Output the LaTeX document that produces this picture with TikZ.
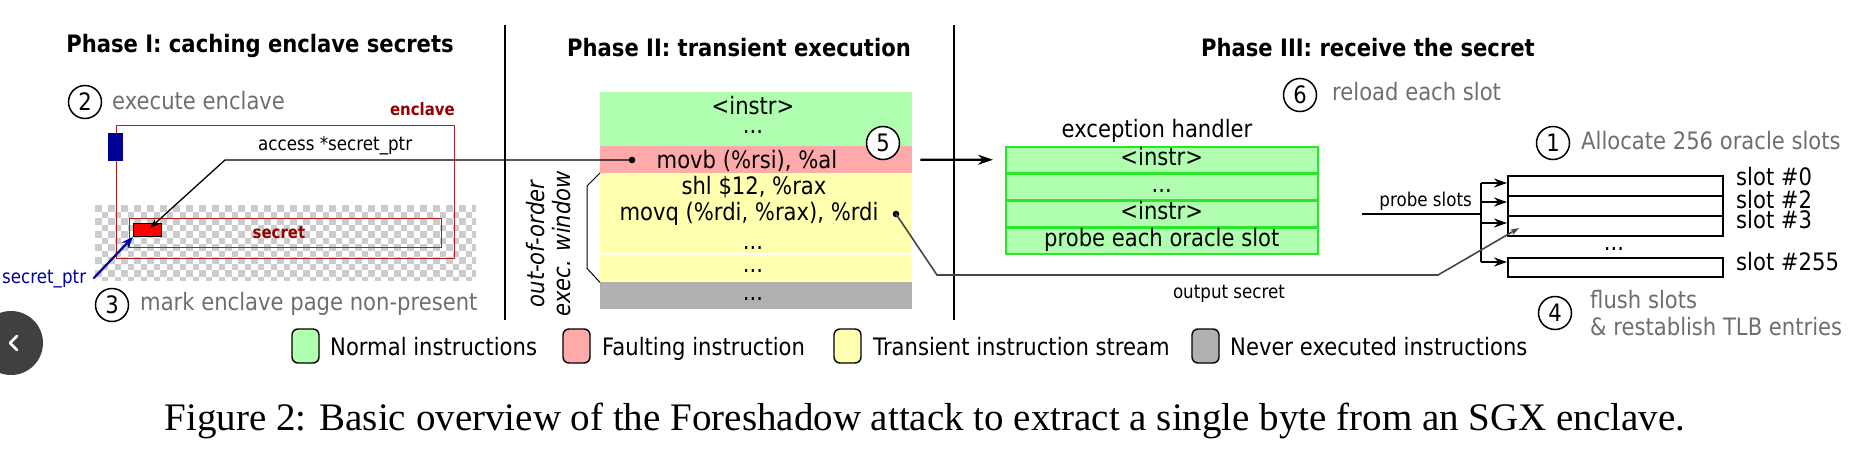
\documentclass[tikz,border=0pt]{standalone}
\usepackage{fontspec}
\setmainfont{DejaVu Sans}[FakeStretch=0.88]
\newfontfamily\capfont{Liberation Serif}
\usetikzlibrary{arrows.meta}
\definecolor{chk}{RGB}{204,204,204}
\definecolor{encl}{RGB}{175,30,30}
\definecolor{encltx}{RGB}{150,0,0}
\definecolor{encblue}{RGB}{0,0,150}
\definecolor{ptrblue}{RGB}{0,0,160}
\definecolor{grn}{RGB}{176,255,176}
\definecolor{ehgreen}{RGB}{40,230,40}
\definecolor{pnk}{RGB}{255,170,170}
\definecolor{ylw}{RGB}{255,255,176}
\definecolor{gry}{RGB}{176,176,176}
\definecolor{labgray}{RGB}{110,110,110}
\definecolor{outline}{RGB}{70,70,70}
\definecolor{uibtn}{RGB}{64,64,64}
\begin{document}
\begin{tikzpicture}[x=1pt,y=-1pt,
  title/.style={inner sep=0, font=\bfseries\fontsize{24}{28}\selectfont},
  txt/.style={inner sep=0, font=\fontsize{24}{28}\selectfont},
  lbl/.style={inner sep=0, text=labgray, font=\fontsize{24}{28}\selectfont},
  num/.style={circle, draw, line width=1.5, minimum size=33, inner sep=0, font=\fontsize{24}{28}\selectfont},
  encltext/.style={inner sep=0, text=encltx, font=\bfseries\fontsize{17}{20}\selectfont},
  band/.style={anchor=north west, minimum width=312, inner sep=0, draw=none},
  ehbox/.style={anchor=north west, draw=ehgreen, fill=grn, line width=1.5, minimum width=312, minimum height=26, inner sep=0, text height=17, text depth=5, font=\fontsize{24}{28}\selectfont},
  slotbox/.style={anchor=north west, draw, line width=1.5, minimum width=215, minimum height=20, inner sep=0},
  slotlbl/.style={inner sep=0, anchor=base west, font=\fontsize{24}{28}\selectfont},
  legbox/.style={draw, line width=1.4, rounded corners=6, minimum width=27, minimum height=34, inner sep=0},
  legtxt/.style={inner sep=0, anchor=base west, font=\fontsize{24}{28}\selectfont},
  probearr/.style={line width=2.2, -{Stealth[length=13,width=9]}},
]
\useasboundingbox (0,0) rectangle (1850,458);

% titles
\node[title, anchor=base] (t1) at (260,52) {Phase I: caching enclave secrets};
\node[title, anchor=base] (t2) at (739,56) {Phase II: transient execution};
\node[title, anchor=base] (t3) at (1368,56) {Phase III: receive the secret};

% dividers
\coordinate (d1t) at (505,25); \coordinate (d1b) at (505,320);
\coordinate (d2t) at (954,25); \coordinate (d2b) at (954,320);
\draw[line width=2.7] (d1t) -- (d1b);
\draw[line width=2.7] (d2t) -- (d2b);

% ---------- Phase I ----------
\begin{scope}
\clip (95,205) rectangle (476,280);
\foreach \i in {0,...,58}{\foreach \j in {0,...,11}{%
  \pgfmathtruncatemacro\k{mod(\i+\j,2)}%
  \ifnum\k=0 \fill[chk] (95+\i*6.5,205+\j*6.5) rectangle ++(6.5,6.5);\fi}}
\end{scope}

\node[draw=encl, line width=1.3, minimum width=338, minimum height=133, anchor=north west, inner sep=0] (enclave) at (116,125) {};
\node[draw=encl, line width=1.3, minimum width=312, minimum height=29, anchor=north west, inner sep=0] (secretbar) at (129,218) {};
\node[encltext, anchor=base] (secrettxt) at (279,238) {secret};
\node[fill=red, draw=black, line width=0.9, minimum width=28, minimum height=13, anchor=north west, inner sep=0] (cell) at (133,223) {};
\node[fill=encblue, minimum width=15, minimum height=28, anchor=north west, inner sep=0] (bluebar) at (108,133) {};
\node[encltext, anchor=base east] (enctxt) at (455,115) {enclave};
\node[inner sep=0, anchor=base west, font=\fontsize{19}{22}\selectfont] (access) at (258,150) {access *secret\_ptr};

\node[num] (n2) at (85,102) {2};
\node[lbl, anchor=base west] (l2) at (112,109) {execute enclave};
\node[num] (n3) at (112,305) {3};
\node[lbl, anchor=base west] (l3) at (140,310) {mark enclave page non-present};

\node[inner sep=0, anchor=base west, text=ptrblue, font=\fontsize{19}{22}\selectfont] (ptr) at (2,283) {secret\_ptr};
\draw[ptrblue, line width=2.2, -{Stealth[length=12,width=9]}] ([xshift=7]ptr.east) -- (cell.south west);

% ---------- Phase II ----------
\node[band, fill=grn, minimum height=54] (sgreen) at (600,92) {};
\node[band, fill=pnk, minimum height=27] (spink) at (600,146) {};
\node[band, fill=ylw, minimum height=109] (syellow) at (600,173) {};
\node[band, fill=gry, minimum height=27] (sgray) at (600,282) {};
\coordinate (sepL) at (600,254); \coordinate (sepR) at (912,254);
\draw[white, line width=1.2] (sepL) -- (sepR);

\node[txt, anchor=base] (i1) at (753,114) {<instr>};
\node[txt, anchor=base] (i2) at (753,133) {...};
\node[txt, anchor=base] (i3) at (747,168) {movb (\%rsi), \%al};
\node[txt, anchor=base] (i4) at (754,194) {shl \$12, \%rax};
\node[txt, anchor=base] (i5) at (749,220) {movq (\%rdi, \%rax), \%rdi};
\node[txt, anchor=base] (i6) at (753,249) {...};
\node[txt, anchor=base] (i7) at (753,272) {...};
\node[txt, anchor=base] (i8) at (753,300) {...};

\draw[line width=1] (syellow.north west) -- ([shift={(-13,13)}]syellow.north west)
  -- ([shift={(-13,-14)}]syellow.south west) -- (syellow.south west);
\node[rotate=90, align=center, inner sep=0, font=\itshape\fontsize{24}{26}\selectfont] (ooo) at (549,244) {out-of-order\\exec. window};

\node[num, fill=white] (n5) at (883,143) {5};

% access connector
\coordinate (dotA) at (632,160);
\coordinate (bendA) at (225,160);
\fill (dotA) circle (3.3);
\draw[line width=1.3, -{Stealth[length=10,width=7]}] (dotA) -- (bendA) -- ([shift={(17,5)}]cell.north west);

% ---------- Phase III ----------
\node[txt, anchor=base] (ehtitle) at (1157,137) {exception handler};
\node[ehbox] (eh1) at (1005,146) {<instr>};
\node[ehbox] (eh2) at (1005,173) {...};
\node[ehbox] (eh3) at (1005,200) {<instr>};
\node[ehbox] (eh4) at (1005,227) {probe each oracle slot};

\draw[line width=2.2, -{Stealth[length=15,width=10]}] ([xshift=8]spink.east) -- ([xshift=-12]eh1.west);

\node[num] (n6) at (1300,95) {6};
\node[lbl, anchor=base west] (l6) at (1332,100) {reload each slot};
\node[num] (n1) at (1553,143) {1};
\node[lbl, anchor=base west] (l1) at (1581,149) {Allocate 256 oracle slots};

\node[slotbox] (s0) at (1507,175) {};
\node[slotbox] (s2) at (1507,195) {};
\node[slotbox] (s3) at (1507,215) {};
\node[slotbox, minimum height=19] (s255) at (1507,257) {};
\node[slotlbl] (ls0) at (1736,185) {slot \#0};
\node[slotlbl] (ls2) at (1736,208) {slot \#2};
\node[slotlbl] (ls3) at (1736,228) {slot \#3};
\node[slotlbl] (ls255) at (1736,270) {slot \#255};
\node[inner sep=0, anchor=base, font=\fontsize{24}{28}\selectfont] (sdots) at (1614,250) {...};

% probe slots
\coordinate (pstart) at (1362,214);
\coordinate (bus) at (1481,214);
\coordinate (btop) at (1481,183);
\coordinate (b2) at (1481,202);
\coordinate (b3) at (1481,223);
\coordinate (bbot) at (1481,262);
\draw[line width=2.2] (pstart) -- (bus);
\draw[line width=2.2] (btop) -- (bbot);
\draw[probearr] (btop) -- (btop -| s0.west);
\draw[probearr] (b2) -- (b2 -| s2.west);
\draw[probearr] (b3) -- (b3 -| s3.west);
\draw[probearr] (bbot) -- (bbot -| s255.west);
\node[inner sep=0, anchor=base east, font=\fontsize{19}{22}\selectfont] (plabel) at (1472,206) {probe slots};

% output secret
\coordinate (dotB) at (896,214);
\coordinate (o1) at (937,275);
\coordinate (o2) at (1438,275);
\fill (dotB) circle (3.3);
\draw[outline, line width=1.6, -{Stealth[length=9,width=6]}] (dotB) -- (o1) -- (o2) -- ([shift={(12,13)}]s3.north west);
\node[inner sep=0, anchor=base, font=\fontsize{19}{22}\selectfont] (outlbl) at (1229,298) {output secret};

\node[num] (n4) at (1555,313) {4};
\node[lbl, anchor=base west] (l4a) at (1590,308) {flush slots};
\node[lbl, anchor=base west] (l4b) at (1590,335) {\& restablish TLB entries};

% legend
\node[legbox, fill=grn] (lg1) at (305.5,346) {};
\node[legtxt] (lt1) at (330,355) {Normal instructions};
\node[legbox, fill=pnk] (lg2) at (576.5,346) {};
\node[legtxt] (lt2) at (602,355) {Faulting instruction};
\node[legbox, fill=ylw] (lg3) at (847.5,346) {};
\node[legtxt] (lt3) at (873,355) {Transient instruction stream};
\node[legbox, fill=gry] (lg4) at (1205.5,346) {};
\node[legtxt] (lt4) at (1230,355) {Never executed instructions};

% caption
\node[inner sep=0, anchor=base, font=\capfont\fontsize{39}{45}\selectfont] (cap) at (925,430) {Figure 2: Basic overview of the Foreshadow attack to extract a single byte from an SGX enclave.};

% viewer button
\fill[uibtn] (11,343) circle (32);
\draw[white, line width=2.5, line cap=round, line join=round] (17,336) -- (10,343) -- (17,350);
\end{tikzpicture}
\end{document}
